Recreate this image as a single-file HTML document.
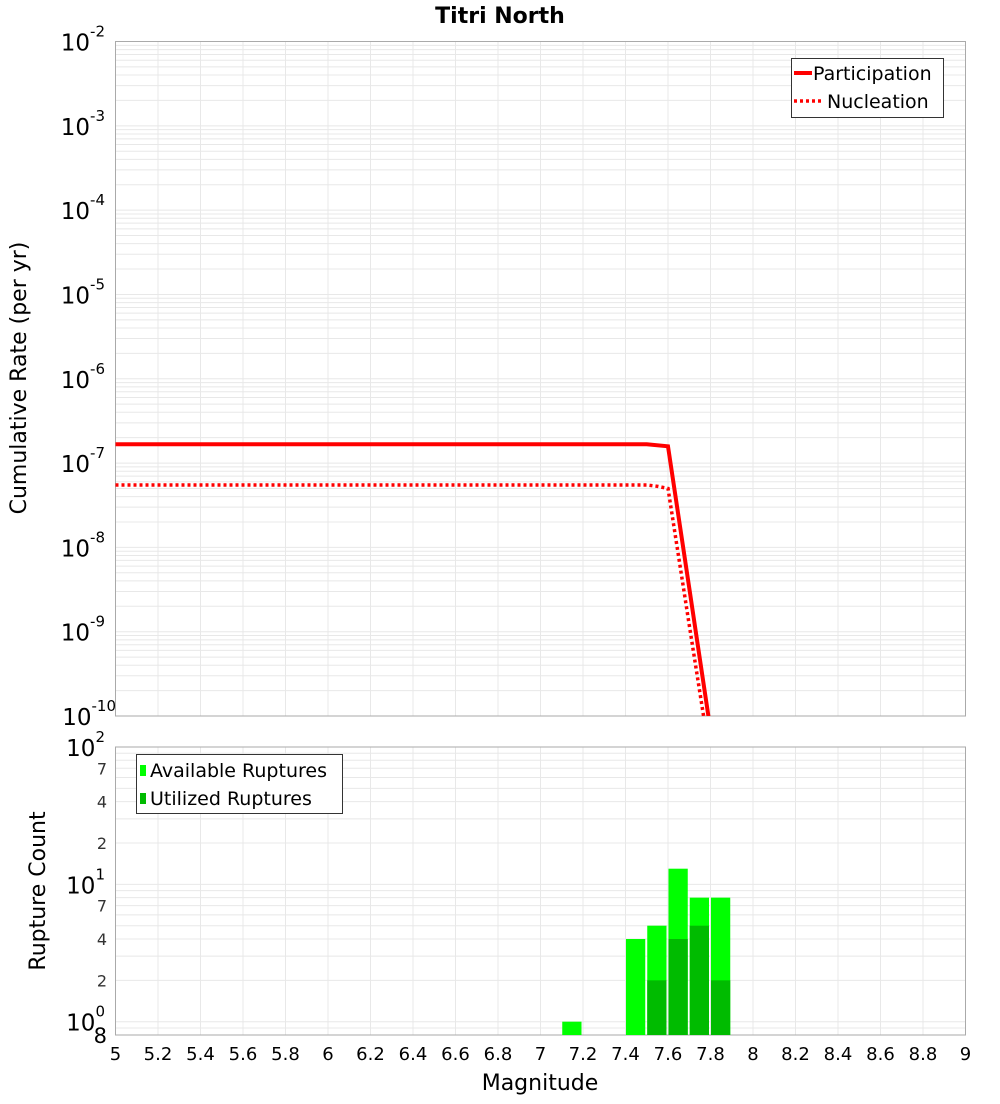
<!DOCTYPE html>
<html><head><meta charset="utf-8"><style>
body{margin:0;background:#fff;font-family:"DejaVu Sans","Liberation Sans",sans-serif;}
svg text{font-family:"DejaVu Sans","Liberation Sans",sans-serif;}
</style></head><body>
<svg id="chart" width="1000" height="1100" xmlns="http://www.w3.org/2000/svg">
<text x="500" y="23" text-anchor="middle" font-size="22" font-weight="bold">Titri North</text>
<g id="topg"></g><g id="botg"></g>
<text transform="translate(26,378) rotate(-90)" text-anchor="middle" font-size="22">Cumulative Rate (per yr)</text>
<text transform="translate(45,891) rotate(-90)" text-anchor="middle" font-size="22">Rupture Count</text>
<text x="540" y="1090" text-anchor="middle" font-size="22">Magnitude</text>
</svg>
<script>
const partMags=[5.0,7.5,7.6,7.7,7.8];
const partRates=[1.67e-7,1.67e-7,1.58e-7,3.3e-9,6.8e-11];
const nuclMags=[5.0,7.5,7.55,7.6,7.7,7.8];
const nuclRates=[5.5e-8,5.5e-8,5.3e-8,5.0e-8,1.2e-9,3e-11];
const binStarts=[7.1,7.4,7.5,7.6,7.7,7.8];
const availCounts=[1,4,5,13,8,8];
const utilCounts=[0,0,2,4,5,2];
const xTicks=[5,5.2,5.4,5.6,5.8,6,6.2,6.4,6.6,6.8,7,7.2,7.4,7.6,7.8,8,8.2,8.4,8.6,8.8,9];
const NS="http://www.w3.org/2000/svg";
const L=115.5,R=965.5,T1=41.5,B1=716,T2=747,B2=1035;
const xs=m=>L+(m-5)/4*(R-L);
const y1=v=>T1+(-2-Math.log10(v))*(B1-T1)/8;
const bDec=(B2-T2)/(2-Math.log10(0.8));
const y2=v=>T2+(2-Math.log10(v))*bDec;
function mk(p,t,a){const e=document.createElementNS(NS,t);for(const k in a)e.setAttribute(k,a[k]);p.appendChild(e);return e;}
const topG=document.getElementById('topg'),botG=document.getElementById('botg');
for(const [g,T,B] of [[topG,T1,B1],[botG,T2,B2]]){
  for(const t of xTicks){const gl=mk(g,'line',{x1:xs(t),x2:xs(t),y1:T,y2:B,stroke:'#e8e8e8','stroke-width':1});
  
  }
}
for(let e=-10;e<=-2;e++){
  for(let k=1;k<=9;k++){const v=k*Math.pow(10,e);if(v>1.0001e-2)break;const yy=y1(v);
    const gl=mk(topG,'line',{x1:L,x2:R,y1:yy,y2:yy,stroke:'#e8e8e8','stroke-width':1});
    
    }
  const yy=y1(Math.pow(10,e));
  const t=mk(topG,'text',{x:105,y:yy+9,'text-anchor':'end','font-size':23});
  
  
  t.innerHTML='10<tspan font-size="15" dy="-14">'+e+'</tspan>';
  if(e===-10){t.setAttribute('x',116);}
}
mk(topG,'rect',{x:L,y:T1,width:R-L,height:B1-T1,fill:'none',stroke:'#aaa','stroke-width':1});
const clip=mk(topG,'clipPath',{id:'c1'});mk(clip,'rect',{x:L,y:T1,width:R-L,height:B1-T1});
const pp=mk(topG,'polyline',{points:partMags.map((m,i)=>xs(m)+','+y1(partRates[i])).join(' '),fill:'none',stroke:'#f00','stroke-width':4,'clip-path':'url(#c1)'});


const np=mk(topG,'polyline',{points:nuclMags.map((m,i)=>xs(m)+','+y1(nuclRates[i])).join(' '),fill:'none',stroke:'#f00','stroke-width':3.5,'stroke-dasharray':'3,3','clip-path':'url(#c1)'});


const lg=mk(topG,'g',{});


mk(lg,'rect',{x:791.5,y:58.5,width:152,height:59,fill:'#fff',stroke:'#333'});
mk(lg,'line',{x1:794,x2:812,y1:73,y2:73,stroke:'#f00','stroke-width':4});
mk(lg,'text',{x:813,y:80,'font-size':19}).textContent='Participation';
mk(lg,'line',{x1:794,x2:822,y1:101,y2:101,stroke:'#f00','stroke-width':3.5,'stroke-dasharray':'3,3'});
mk(lg,'text',{x:827,y:108,'font-size':19}).textContent='Nucleation';
for(let e=-1;e<=1;e++){for(let k=1;k<=9;k++){const v=k*Math.pow(10,e);if(v<0.8||v>100)continue;const yy=y2(v);
  const gl=mk(botG,'line',{x1:L,x2:R,y1:yy,y2:yy,stroke:'#e8e8e8','stroke-width':1});
  
  }}
for(const e of [0,1,2]){const t=mk(botG,'text',{x:105,y:y2(Math.pow(10,e))+9,'text-anchor':'end','font-size':23});
  
  
  t.innerHTML='10<tspan font-size="15" dy="-14">'+e+'</tspan>';}
for(const v of [2,4,7,20,40,70,0.8]){const lab=v>=10?String(v/10):(v<1?'8':String(v));
  const t=mk(botG,'text',{x:107,y:y2(v)+(v<1?8:6),'text-anchor':'end','font-size':v<1?21:16,fill:v<1?'#000':'#333'});
  
  
  t.textContent=lab;}
mk(botG,'rect',{x:L,y:T2,width:R-L,height:B2-T2,fill:'none',stroke:'#aaa','stroke-width':1});
binStarts.forEach((m,i)=>{
  const x0=xs(m)+0.5,w=xs(m+0.1)-xs(m)-2;
  const a=mk(botG,'rect',{x:x0,y:y2(availCounts[i]),width:w,height:B2-y2(availCounts[i]),fill:'#00ff00'});
  
  
  if(utilCounts[i]>0){const u=mk(botG,'rect',{x:x0,y:y2(utilCounts[i]),width:w,height:B2-y2(utilCounts[i]),fill:'#00bb00'});
  
  }
});
const bl=mk(botG,'g',{});


mk(bl,'rect',{x:136.5,y:754.5,width:206,height:59,fill:'#fff',stroke:'#333'});
mk(bl,'rect',{x:140,y:765,width:6,height:11,fill:'#00ff00'});
mk(bl,'text',{x:150,y:777,'font-size':19}).textContent='Available Ruptures';
mk(bl,'rect',{x:140,y:793,width:6,height:11,fill:'#00bb00'});
mk(bl,'text',{x:150,y:805,'font-size':19}).textContent='Utilized Ruptures';
for(const t of xTicks){const e=mk(botG,'text',{x:xs(t),y:1060,'text-anchor':'middle','font-size':18});
  
  
  e.textContent=String(t);}
</script>
</body></html>
